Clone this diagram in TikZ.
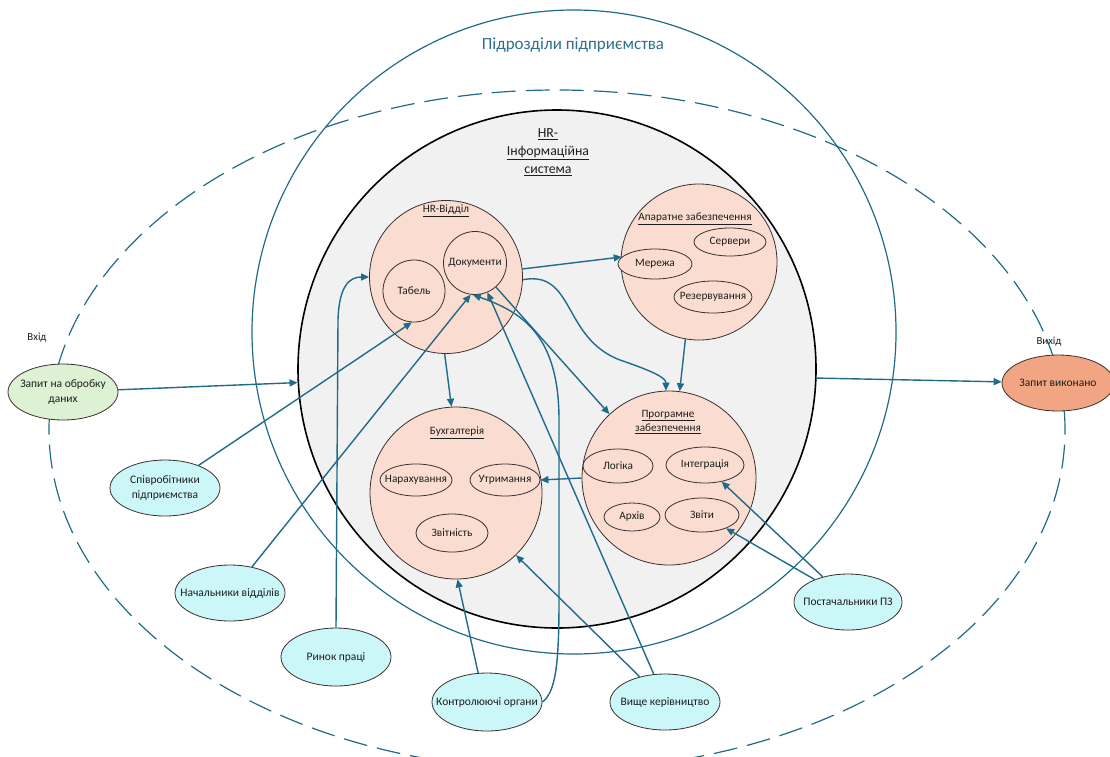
\documentclass[tikz,border=0pt]{standalone}
\usepackage{fontspec}
\setmainfont{Carlito}
\usetikzlibrary{shapes.geometric,arrows.meta}
\definecolor{linec}{HTML}{1F6B8A}
\definecolor{titlec}{HTML}{2E6E8E}
\definecolor{edge}{HTML}{3A3030}
\definecolor{peachc}{HTML}{FADDD0}
\definecolor{grayc}{HTML}{F1F1F1}
\definecolor{greenc}{HTML}{DDF1D3}
\definecolor{cyanc}{HTML}{CCF7F9}
\definecolor{orangec}{HTML}{F2A582}
\definecolor{txt}{HTML}{1E1E1E}
\tikzset{
  conn/.style={draw=linec, line width=1.4pt, -{Triangle[length=8pt,width=7pt]}},
  peach/.style={circle, draw=edge, fill=peachc, line width=0.8pt, inner sep=0pt},
  itemc/.style={circle, draw=edge, fill=peachc, line width=0.8pt, inner sep=0pt, text=txt, font=\fontsize{11.3}{13}\selectfont},
  itemtext/.style={text=txt, font=\fontsize{11.3}{13}\selectfont, inner sep=0pt},
  iteme/.style={ellipse, draw=edge, fill=peachc, line width=0.8pt, inner sep=0pt, label={[itemtext]center:#1}},
  sublab/.style={text=txt, font=\fontsize{11.2}{14.5}\selectfont, align=center},
  actortext/.style={text=txt, font=\fontsize{11.5}{15}\selectfont, align=center, inner sep=0pt},
  actor/.style={ellipse, draw=edge, line width=0.8pt, inner sep=0pt, minimum width=110pt, minimum height=56pt, label={[actortext]center:#1}},
  plain/.style={text=txt, font=\fontsize{10.8}{13}\selectfont}
}
\begin{document}
\begin{tikzpicture}[x=1pt,y=-1pt]
\useasboundingbox (0,0) rectangle (1110,756);
\fill[white] (0,0) rectangle (1110,756);

% outer boundaries
\draw[linec, line width=1.2pt, dash pattern=on 24pt off 10pt] (557,430) ellipse [x radius=508pt, y radius=340pt];
\draw[linec, line width=1.2pt] (574,332) circle [radius=322pt];
\node[text=titlec, font=\fontsize{17}{19}\selectfont] (title) at (573,45) {Підрозділи підприємства};

% HR information system
\node[circle, draw=black, line width=1.6pt, fill=grayc, minimum size=518pt, inner sep=0pt] (sys) at (557,369) {};
\node[text=txt, align=center, font=\fontsize{13.8}{18}\selectfont] (syslab) at (548,152) {\underline{HR-}\\\underline{Інформаційна}\\\underline{система}};

% HR department
\node[peach, minimum size=153pt] (hr) at (446,277) {};
\node[sublab] (hrlab) at (446,211) {\underline{HR-Відділ}};
\node[itemc, minimum size=62pt] (tab) at (414,291) {Табель};
\node[itemc, minimum size=63pt] (doc) at (475,263) {Документи};

% Hardware
\node[peach, minimum size=156pt] (app) at (699,262) {};
\node[sublab] (applab) at (695,219) {\underline{Апаратне забезпечення}};
\node[iteme={Сервери}, minimum width=72pt, minimum height=28pt] (serv) at (730,242) {};
\node[iteme={Мережа}, minimum width=74pt, minimum height=30pt] (mer) at (655,264) {};
\node[iteme={Резервування}, minimum width=78pt, minimum height=32pt] (rez) at (713,297) {};

% Accounting
\node[peach, minimum size=172pt] (buh) at (456,493) {};
\node[sublab] (buhlab) at (457,433) {\underline{Бухгалтерія}};
\node[iteme={Нарахування}, minimum width=72pt, minimum height=32pt] (nar) at (416,480) {};
\node[iteme={Утримання}, minimum width=70pt, minimum height=32pt] (utr) at (505,480) {};
\node[iteme={Звітність}, minimum width=72pt, minimum height=38pt] (zvit) at (452,533) {};

% Software
\node[peach, minimum size=174pt] (prog) at (669,478) {};
\node[sublab] (proglab) at (668,422) {\underline{Програмне}\\\underline{забезпечення}};
\node[iteme={Логіка}, minimum width=70pt, minimum height=34pt] (log) at (618,466) {};
\node[iteme={Інтеграція}, minimum width=78pt, minimum height=36pt] (integ) at (705,465) {};
\node[iteme={Архів}, minimum width=56pt, minimum height=28pt] (arch) at (632,517) {};
\node[iteme={Звіти}, minimum width=74pt, minimum height=34pt] (zvity) at (702,515) {};

% actors
\node[actor={Запит на обробку\\даних}, fill=greenc] (inp) at (63,392) {};
\node[actor={Співробітники\\підприємства}, fill=cyanc] (emp) at (165,488) {};
\node[actor={Начальники відділів}, fill=cyanc] (heads) at (230,593) {};
\node[actor={Ринок праці}, fill=cyanc, minimum height=58pt] (mkt) at (336,657) {};
\node[actor={Контролюючі органи}, fill=cyanc, minimum height=58pt] (ctrl) at (487,702) {};
\node[actor={Вище керівництво}, fill=cyanc] (mgmt) at (665,702) {};
\node[actor={Постачальники ПЗ}, fill=cyanc, minimum width=108pt] (sup) at (848,602) {};
\node[actor={Запит виконано}, fill=orangec, minimum width=112pt] (out) at (1058,383) {};
\node[plain] (inlab) at (37,338) {Вхід};
\node[plain] (outlab) at (1049,342) {Вихід};

% connectors
\draw[conn] (inp) -- (sys.183);
\draw[conn] (sys.358) -- (out);
\draw[conn] (emp.34) -- (tab.266);
\draw[conn] (heads.50) -- (doc.262);
\draw[conn] (mkt.north) -- (338,320) .. controls (339,285) and (350,277) .. (hr.west);
\draw[conn] (ctrl.east) .. controls (556,692) and (559,662) .. (559,600) -- (559,420) .. controls (559,335) and (522,312) .. (doc.266);
\draw[conn] (mgmt.112) -- (doc.293);
\draw[conn] (mgmt.135) -- (buh.314);
\draw[conn] (ctrl.107) -- (buh.271);
\draw[conn] (sup.135) -- (integ.315);
\draw[conn] (sup.146) -- (zvity.331);
\draw[conn] (prog.180) -- (utr.east);
\draw[conn] (hr.269) -- (buh.93);
\draw[conn] (hr.6) -- (mer.168);
\draw[conn] (hr.358) .. controls (575,270) and (562,338) .. (620,360) .. controls (655,372) and (666,378) .. (prog.92);
\draw[conn] (doc.311) -- (prog.133);
\draw[conn] (app.260) -- (prog.83);
\end{tikzpicture}
\end{document}
